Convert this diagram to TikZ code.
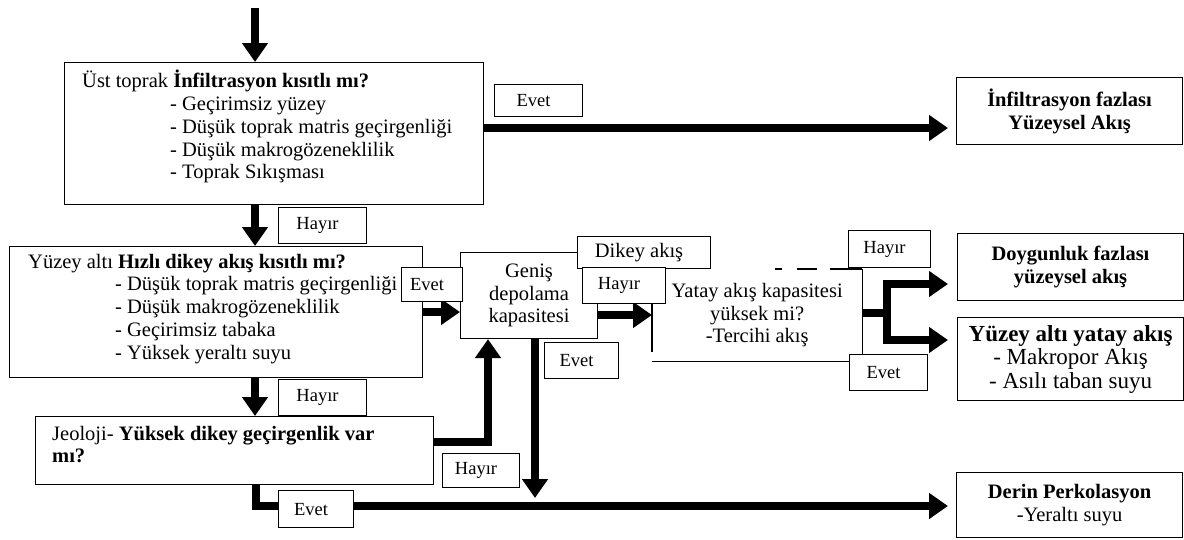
\documentclass[tikz,border=0pt]{standalone}
\usepackage{fontspec}
\setmainfont{Liberation Serif}
\usetikzlibrary{arrows.meta,calc}
\newcommand\mainsize{\fontsize{20.5}{22.8}\selectfont}
\newcommand\bigsize{\fontsize{23}{23.5}\selectfont}
\newcommand\lblsize{\fontsize{18.5}{21}\selectfont}

\begin{document}
\begin{tikzpicture}[x=1pt,y=-1pt,
  box/.style={draw, line width=1.1pt, fill=white, inner sep=0pt, anchor=north west},
  lbl/.style={box, font=\lblsize, execute at end node=\hspace*{10pt}},
  txt/.style={inner sep=0pt, anchor=north west, align=left, font=\mainsize},
  ctr/.style={box, align=center, font=\mainsize},
  edge/.style={line width=1.1pt},
  flow/.style={line width=8pt, -{Triangle[length=19pt,width=25pt]}}
]
\fill[white] (0,0) rectangle (1184,539);
\useasboundingbox (0,0) rectangle (1184,539);

% decision boxes on the left
\node[box, minimum width=419pt, minimum height=142pt] (b1) at (64,62) {};
\node[txt] (b1t) at (82,70) {\strut Üst toprak \textbf{İnfiltrasyon kısıtlı mı?}\\
  \hspace*{88pt}- Geçirimsiz yüzey\\
  \hspace*{88pt}- Düşük toprak matris geçirgenliği\\
  \hspace*{88pt}- Düşük makrogözeneklilik\\
  \hspace*{88pt}- Toprak Sıkışması};

\node[box, minimum width=413pt, minimum height=131pt] (b2) at (9,246) {};
\node[txt] (b2t) at (28,252) {\strut Yüzey altı \textbf{Hızlı dikey akış kısıtlı mı?}\\
  \hspace*{87pt}- Düşük toprak matris geçirgenliği\\
  \hspace*{87pt}- Düşük makrogözeneklilik\\
  \hspace*{87pt}- Geçirimsiz tabaka\\
  \hspace*{87pt}- Yüksek yeraltı suyu};

\node[box, minimum width=398pt, minimum height=68pt] (b3) at (35,416) {};
\node[txt] (b3t) at (52,424) {\strut Jeoloji- \textbf{Yüksek dikey geçirgenlik var}\\
  \textbf{mı?}};

% middle boxes
\node[ctr, minimum width=137pt, minimum height=86pt] (gen) at (460,252) {Geniş\\depolama\\kapasitesi};

\node[inner sep=0pt, anchor=north west, minimum width=210pt, minimum height=92pt,
  align=center, font=\mainsize] (yat) at (652,269) {Yatay akış kapasitesi\\yüksek mi?\\-Tercihi akış};
\draw[edge] (yat.north west) -- ($(yat.north west)+(0,83)$);
\draw[edge] (yat.south west) -- (yat.south east) -- (yat.north east);
\draw[edge, dash pattern=on 7pt off 15pt on 20pt off 13pt on 40pt]
  ($(yat.north west)+(123,0)$) -- (yat.north east);

% outcome boxes on the right
\node[ctr, font=\mainsize\bfseries, minimum width=226pt, minimum height=67pt] (inf) at (956,77)
  {İnfiltrasyon fazlası\\Yüzeysel Akış};
\node[ctr, font=\mainsize\bfseries, minimum width=226pt, minimum height=67pt] (doy) at (957,233)
  {Doygunluk fazlası\\yüzeysel akış};
\node[ctr, font=\bigsize, minimum width=226pt, minimum height=83pt] (yak) at (957,317)
  {\textbf{Yüzey altı yatay akış}\\- Makropor Akış\\- Asılı taban suyu};
\node[ctr, minimum width=226pt, minimum height=65pt] (der) at (956,472)
  {\textbf{Derin Perkolasyon}\\-Yeraltı suyu};

% thick flow arrows
\coordinate (src) at (255,8);
\draw[flow] (src) -- (src |- b1.north);
\draw[flow] (b1.south -| src) -- (b2.north -| src);
\draw[flow] (b2.south -| src) -- (b3.north -| src);
\coordinate (ev1) at (0,128);
\draw[flow, shorten >=8pt] (b1.east |- ev1) -- (inf.west |- ev1);
\coordinate (ev2) at (0,312);
\draw[flow] (b2.east |- ev2) -- (gen.west |- ev2);
\coordinate (up) at (488,442);
\draw[flow] (b3.east |- up) -- (up) -- (up |- gen.south);
\coordinate (dn) at (535,498);
\draw[flow] (gen.south -| dn) -- (dn);
\coordinate (base) at (256,506);
\draw[flow, shorten >=8pt] (b3.south -| base) -- (base) -- (der.west |- base);
\coordinate (ev3) at (0,315);
\draw[flow] (gen.east |- ev3) -- (yat.west |- ev3);
\coordinate (fork) at (887,313);
\draw[line width=8pt] (yat.east |- fork) -- (fork);
\coordinate (f1) at (0,284);
\coordinate (f2) at (0,340);
\draw[flow, shorten >=9pt] (fork) |- (doy.west |- f1);
\draw[flow, shorten >=9pt] (fork) |- (yak.west |- f2);

% answer labels
\node[lbl, minimum width=88pt, minimum height=32pt] (e1) at (494,84) {Evet};
\node[lbl, minimum width=88pt, minimum height=36pt] (h1) at (278,207) {Hayır};
\node[lbl, minimum width=61pt, minimum height=34pt] (e2) at (401,267) {Evet};
\node[lbl, font=\mainsize, minimum width=133pt, minimum height=32pt] (dik) at (577,236) {Dikey akış};
\node[lbl, minimum width=83pt, minimum height=36pt] (h2) at (582,267) {Hayır};
\node[lbl, minimum width=74pt, minimum height=36pt] (e3) at (544,342) {Evet};
\node[lbl, minimum width=82pt, minimum height=37pt] (h3) at (848,230) {Hayır};
\node[lbl, minimum width=78pt, minimum height=36pt] (e4) at (849,354) {Evet};
\node[lbl, minimum width=88pt, minimum height=36pt] (h4) at (278,379) {Hayır};
\node[lbl, minimum width=77pt, minimum height=34pt] (h5) at (442,453) {Hayır};
\node[lbl, minimum width=75pt, minimum height=37pt] (e5) at (278,490) {Evet};
\end{tikzpicture}
\end{document}
